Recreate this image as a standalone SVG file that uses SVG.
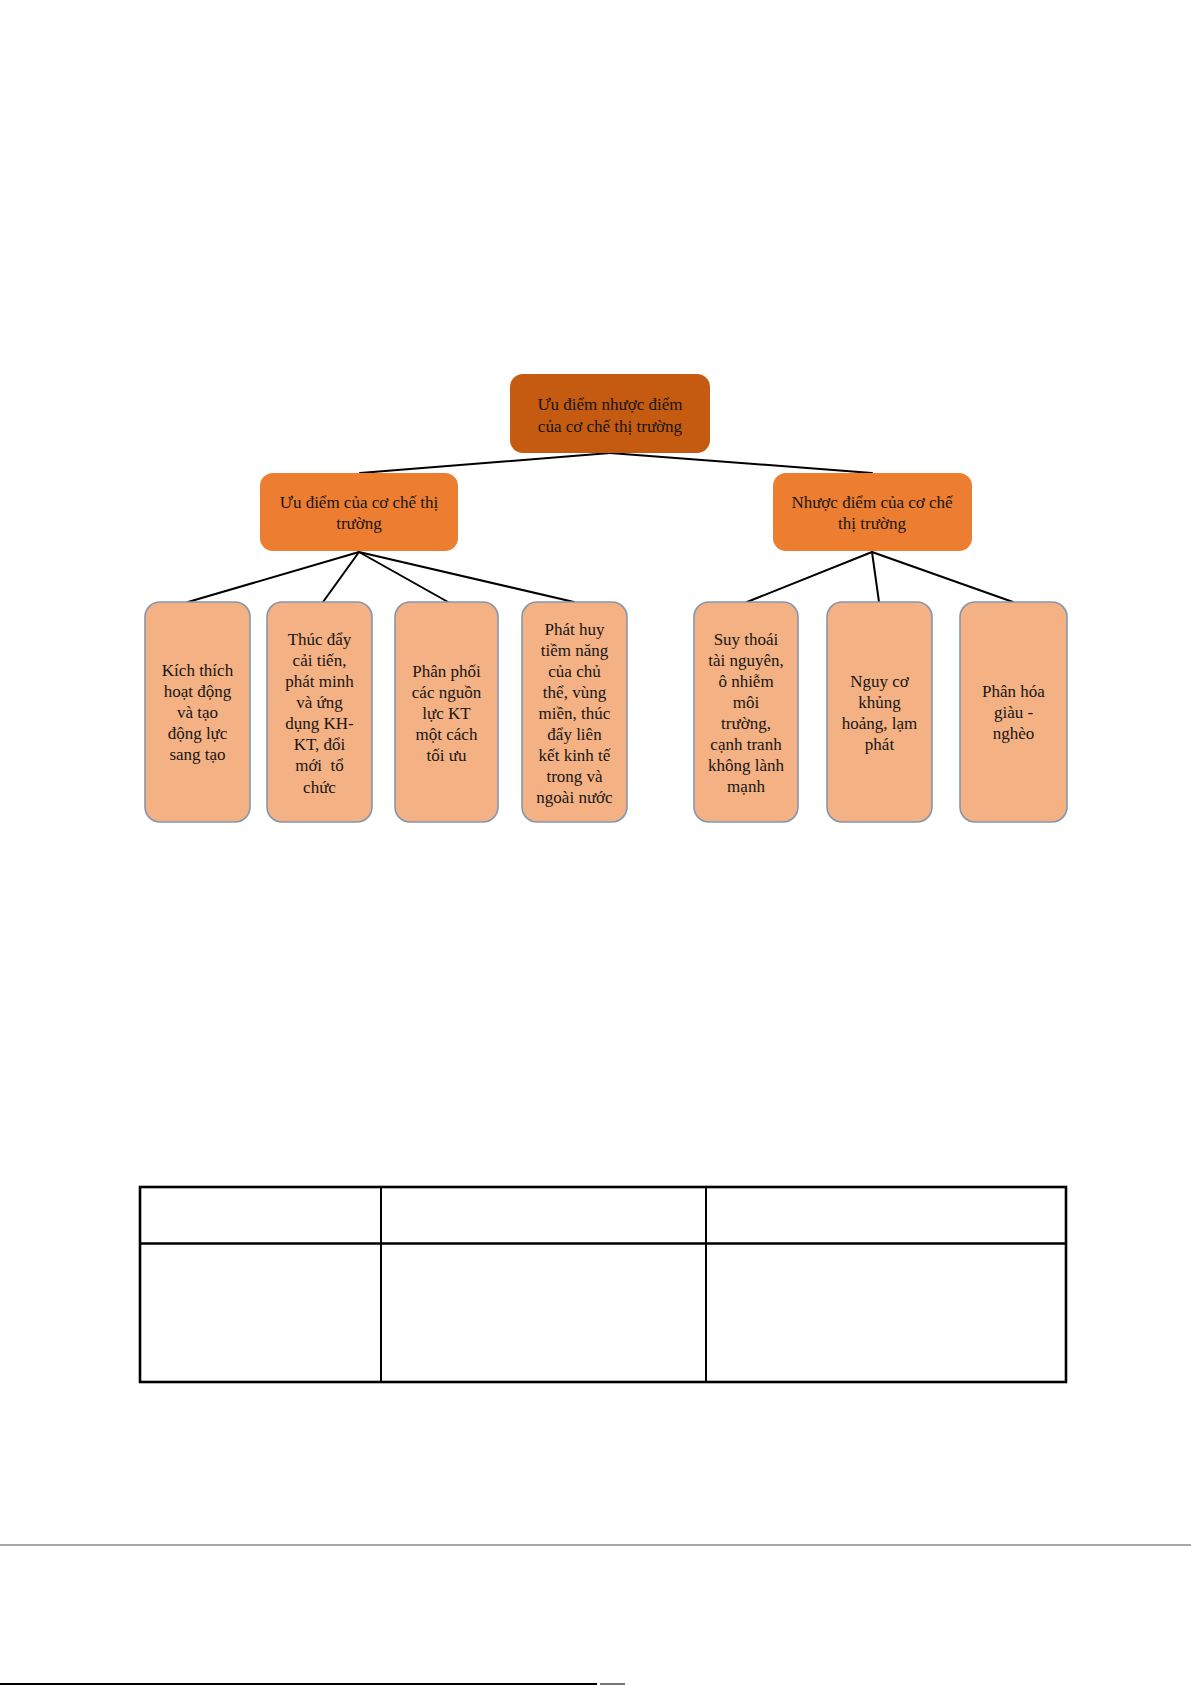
<svg xmlns="http://www.w3.org/2000/svg" width="1191" height="1685" viewBox="0 0 1191 1685">
<style>
text{font-family:"Liberation Serif","Times New Roman",serif;font-size:17px;fill:#161616;text-anchor:middle}
.root{fill:#C55A11}
.mid{fill:#ED7D31}
.leaf{fill:#F4B183;stroke:#8496AE;stroke-width:1.6}
.conn line{stroke:#000;stroke-width:2;stroke-linecap:round}
.tbl{stroke:#000;fill:none}
</style>
<rect width="1191" height="1685" fill="#fff"/>
<g class="conn" id="connectors">
<line x1="610" y1="453" x2="360" y2="473"/>
<line x1="610" y1="453" x2="872" y2="473"/>
<line x1="359" y1="552" x2="188" y2="602"/>
<line x1="359" y1="552" x2="323" y2="602"/>
<line x1="359" y1="552" x2="448" y2="602"/>
<line x1="359" y1="552" x2="574" y2="602"/>
<line x1="872" y1="552" x2="747" y2="602"/>
<line x1="872" y1="552" x2="879" y2="602"/>
<line x1="872" y1="552" x2="1013" y2="602"/>
</g>
<g id="root">
<rect class="root" x="510" y="374" width="200" height="79" rx="13"/>
<text x="610" y="410">Ưu điểm nhược điểm</text>
<text x="610" y="432">của cơ chế thị trường</text>
</g>
<g id="uu-diem">
<rect class="mid" x="260" y="473" width="198" height="78" rx="13"/>
<text x="359" y="508">Ưu điểm của cơ chế thị</text>
<text x="359" y="529">trường</text>
</g>
<g id="nhuoc-diem">
<rect class="mid" x="773" y="473" width="199" height="78" rx="13"/>
<text x="872" y="508">Nhược điểm của cơ chế</text>
<text x="872" y="529">thị trường</text>
</g>
<g id="leaf1">
<rect class="leaf" x="145" y="602" width="105" height="220" rx="15"/>
<text x="197.5" y="676">Kích thích</text>
<text x="197.5" y="697">hoạt động</text>
<text x="197.5" y="718">và tạo</text>
<text x="197.5" y="739">động lực</text>
<text x="197.5" y="760">sang tạo</text>
</g>
<g id="leaf2">
<rect class="leaf" x="267" y="602" width="105" height="220" rx="15"/>
<text x="319.5" y="644.5">Thúc đẩy</text>
<text x="319.5" y="665.5">cải tiến,</text>
<text x="319.5" y="686.5">phát minh</text>
<text x="319.5" y="707.5">và ứng</text>
<text x="319.5" y="729">dụng KH-</text>
<text x="319.5" y="750">KT, đổi</text>
<text x="319.5" y="771" xml:space="preserve">mới  tổ</text>
<text x="319.5" y="792.5">chức</text>
</g>
<g id="leaf3">
<rect class="leaf" x="395" y="602" width="103" height="220" rx="15"/>
<text x="446.5" y="677">Phân phối</text>
<text x="446.5" y="698">các nguồn</text>
<text x="446.5" y="719">lực KT</text>
<text x="446.5" y="740">một cách</text>
<text x="446.5" y="761">tối ưu</text>
</g>
<g id="leaf4">
<rect class="leaf" x="522" y="602" width="105" height="220" rx="15"/>
<text x="574.5" y="635">Phát huy</text>
<text x="574.5" y="656">tiềm năng</text>
<text x="574.5" y="677">của chủ</text>
<text x="574.5" y="698">thể, vùng</text>
<text x="574.5" y="719">miền, thúc</text>
<text x="574.5" y="740">đẩy liên</text>
<text x="574.5" y="761">kết kinh tế</text>
<text x="574.5" y="782">trong và</text>
<text x="574.5" y="803">ngoài nước</text>
</g>
<g id="leaf5">
<rect class="leaf" x="694" y="602" width="104" height="220" rx="15"/>
<text x="746" y="645">Suy thoái</text>
<text x="746" y="666">tài nguyên,</text>
<text x="746" y="687">ô nhiễm</text>
<text x="746" y="708">môi</text>
<text x="746" y="729">trường,</text>
<text x="746" y="750">cạnh tranh</text>
<text x="746" y="771">không lành</text>
<text x="746" y="792">mạnh</text>
</g>
<g id="leaf6">
<rect class="leaf" x="827" y="602" width="105" height="220" rx="15"/>
<text x="879.5" y="687">Nguy cơ</text>
<text x="879.5" y="708">khủng</text>
<text x="879.5" y="729">hoảng, lạm</text>
<text x="879.5" y="750">phát</text>
</g>
<g id="leaf7">
<rect class="leaf" x="960" y="602" width="107" height="220" rx="15"/>
<text x="1013.5" y="697">Phân hóa</text>
<text x="1013.5" y="718">giàu -</text>
<text x="1013.5" y="739">nghèo</text>
</g>
<g id="table">
<rect class="tbl" x="140" y="1187" width="926" height="195" stroke-width="2.6"/>
<line class="tbl" x1="140" y1="1243.5" x2="1066" y2="1243.5" stroke-width="2.6"/>
<line class="tbl" x1="381" y1="1187" x2="381" y2="1382" stroke-width="2"/>
<line class="tbl" x1="706" y1="1187" x2="706" y2="1382" stroke-width="2"/>
</g>
<line x1="0" y1="1545" x2="1191" y2="1545" stroke="#8a8a8a" stroke-width="1.5"/>
<line x1="0" y1="1684" x2="597" y2="1684" stroke="#000" stroke-width="2"/>
<line x1="600" y1="1684" x2="625" y2="1684" stroke="#777" stroke-width="2"/>
</svg>
